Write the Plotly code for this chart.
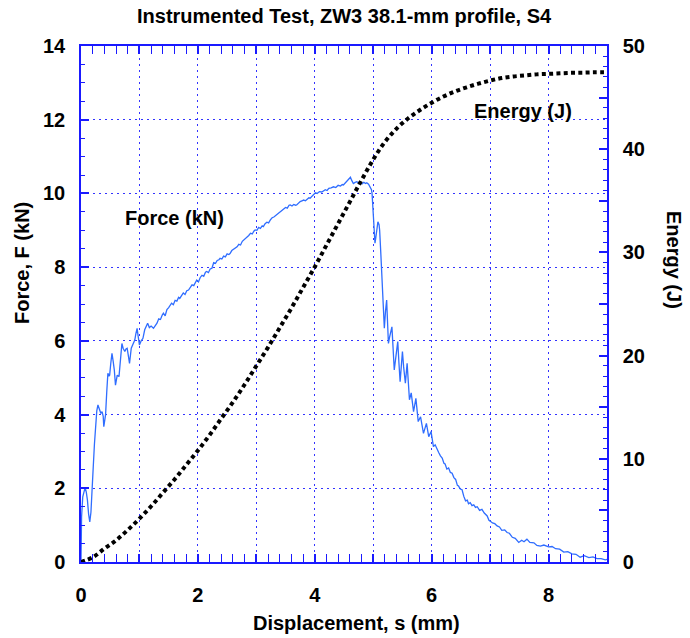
import plotly.graph_objects as go

# Force trace: displacement (mm) and force (kN)
disp_force = [
    0.00, 0.01, 0.03, 0.05, 0.07, 0.09, 0.11, 0.13, 0.15, 0.17, 0.19, 0.21, 0.23, 0.25, 0.27, 0.29,
    0.31, 0.34, 0.36, 0.38, 0.39, 0.41, 0.42, 0.44, 0.46, 0.48, 0.49, 0.51, 0.53, 0.55, 0.57, 0.59,
    0.61, 0.62, 0.65, 0.67, 0.70, 0.72, 0.75, 0.77, 0.79, 0.81, 0.83, 0.86, 0.89, 0.92, 0.94, 0.96,
    0.98, 1.00, 1.03, 1.06, 1.09, 1.12, 1.14, 1.17, 1.20, 1.24, 1.27, 1.30, 1.33, 1.36, 1.39, 1.41,
    1.44, 1.47, 1.50, 1.53, 1.55, 1.58, 1.61, 1.64, 1.67, 1.69, 1.72, 1.75, 1.78, 1.81, 1.84, 1.87,
    1.90, 1.93, 1.96, 1.98, 2.01, 2.04, 2.07, 2.10, 2.13, 2.15, 2.18, 2.21, 2.24, 2.27, 2.30, 2.33,
    2.36, 2.38, 2.41, 2.44, 2.47, 2.50, 2.53, 2.55, 2.58, 2.61, 2.64, 2.67, 2.70, 2.73, 2.76, 2.79,
    2.81, 2.84, 2.87, 2.90, 2.93, 2.96, 2.98, 3.01, 3.04, 3.07, 3.10, 3.12, 3.15, 3.18, 3.21, 3.24,
    3.27, 3.30, 3.33, 3.36, 3.39, 3.41, 3.44, 3.47, 3.50, 3.53, 3.56, 3.58, 3.61, 3.64, 3.67, 3.69,
    3.72, 3.75, 3.78, 3.81, 3.84, 3.87, 3.90, 3.92, 3.95, 3.98, 4.01, 4.04, 4.08, 4.12, 4.15, 4.18,
    4.21, 4.24, 4.28, 4.32, 4.36, 4.40, 4.44, 4.47, 4.49, 4.52, 4.55, 4.58, 4.61, 4.63, 4.66, 4.69,
    4.72, 4.75, 4.78, 4.81, 4.84, 4.87, 4.89, 4.92, 4.95, 4.97, 4.98, 4.99, 5.00, 5.01, 5.02, 5.03,
    5.04, 5.05, 5.07, 5.08, 5.10, 5.11, 5.13, 5.15, 5.16, 5.17, 5.18, 5.19, 5.21, 5.23, 5.24, 5.26,
    5.28, 5.29, 5.32, 5.34, 5.36, 5.39, 5.42, 5.44, 5.46, 5.48, 5.50, 5.52, 5.55, 5.58, 5.60, 5.62,
    5.65, 5.67, 5.69, 5.73, 5.75, 5.77, 5.81, 5.84, 5.86, 5.91, 5.93, 5.95, 5.99, 6.01, 6.03, 6.06,
    6.09, 6.12, 6.15, 6.18, 6.21, 6.23, 6.26, 6.29, 6.32, 6.35, 6.38, 6.41, 6.44, 6.46, 6.49, 6.52,
    6.55, 6.58, 6.61, 6.63, 6.66, 6.69, 6.72, 6.75, 6.78, 6.82, 6.86, 6.90, 6.95, 6.98, 7.00, 7.04,
    7.08, 7.12, 7.16, 7.20, 7.25, 7.29, 7.33, 7.38, 7.43, 7.49, 7.54, 7.58, 7.63, 7.68, 7.75, 7.80,
    7.86, 7.92, 8.00, 8.06, 8.12, 8.19, 8.26, 8.33, 8.40, 8.47, 8.54, 8.61, 8.69, 8.76, 8.83, 8.90,
    8.97, 9.00,
]
force_kn = [
    0.05, 1.23, 1.77, 1.95, 2.02, 1.90, 1.68, 1.30, 1.09, 1.35, 1.85, 2.59, 3.20, 3.76, 4.10, 4.26,
    4.15, 4.03, 4.08, 3.95, 3.67, 3.85, 3.99, 4.60, 5.12, 5.05, 5.07, 5.40, 5.66, 5.45, 5.21, 4.80,
    4.95, 5.07, 5.03, 5.45, 5.93, 5.80, 5.71, 5.78, 5.80, 5.60, 5.39, 5.80, 5.92, 6.02, 6.20, 6.34,
    6.10, 5.89, 6.00, 6.07, 6.30, 6.43, 6.48, 6.36, 6.40, 6.34, 6.42, 6.48, 6.60, 6.58, 6.70, 6.75,
    6.68, 6.85, 6.90, 6.97, 7.02, 6.98, 7.10, 7.08, 7.18, 7.15, 7.22, 7.30, 7.26, 7.36, 7.38, 7.47,
    7.52, 7.50, 7.62, 7.65, 7.60, 7.72, 7.78, 7.75, 7.86, 7.88, 7.85, 7.95, 7.97, 8.12, 8.10, 8.18,
    8.20, 8.24, 8.22, 8.30, 8.28, 8.36, 8.34, 8.37, 8.45, 8.48, 8.52, 8.55, 8.62, 8.60, 8.70, 8.74,
    8.78, 8.80, 8.86, 8.92, 8.90, 8.98, 9.01, 9.00, 9.08, 9.05, 9.12, 9.10, 9.18, 9.22, 9.20, 9.28,
    9.34, 9.36, 9.40, 9.44, 9.46, 9.50, 9.55, 9.58, 9.62, 9.60, 9.68, 9.69, 9.66, 9.70, 9.68, 9.69,
    9.74, 9.78, 9.80, 9.82, 9.80, 9.84, 9.88, 9.87, 9.92, 9.96, 10.02, 10.00, 10.05, 10.04, 10.07, 10.10,
    10.08, 10.14, 10.15, 10.18, 10.16, 10.22, 10.20, 10.24, 10.23, 10.28, 10.32, 10.38, 10.44, 10.36, 10.27, 10.30,
    10.32, 10.28, 10.30, 10.26, 10.30, 10.27, 10.29, 10.25, 10.18, 10.10, 10.00, 9.70, 9.50, 9.28, 8.90, 8.65,
    8.75, 8.92, 9.23, 9.23, 9.15, 9.00, 8.37, 7.74, 7.40, 7.00, 6.60, 6.34, 6.80, 7.11, 6.70, 5.93,
    6.10, 6.20, 6.38, 5.80, 5.21, 5.60, 5.98, 5.40, 4.89, 5.30, 5.71, 5.30, 4.85, 5.39, 4.90, 4.40,
    4.59, 4.30, 4.08, 4.44, 4.10, 3.81, 3.94, 3.65, 3.49, 3.76, 3.55, 3.40, 3.54, 3.30, 3.13, 3.18,
    3.06, 2.97, 2.88, 2.82, 2.68, 2.66, 2.52, 2.55, 2.43, 2.41, 2.29, 2.24, 2.08, 2.06, 1.98, 1.96,
    1.78, 1.66, 1.68, 1.58, 1.61, 1.53, 1.55, 1.48, 1.50, 1.40, 1.43, 1.33, 1.25, 1.13, 1.11, 1.06,
    1.04, 0.98, 0.95, 0.86, 0.87, 0.80, 0.78, 0.67, 0.64, 0.53, 0.59, 0.55, 0.62, 0.53, 0.52, 0.45,
    0.43, 0.46, 0.41, 0.42, 0.36, 0.35, 0.27, 0.28, 0.22, 0.21, 0.13, 0.17, 0.12, 0.14, 0.09, 0.09,
    0.06, 0.07,
]

# Cumulative absorbed energy (J) along the displacement
disp_energy = [
    0.0, 0.2, 0.4, 0.6, 0.8, 1.0, 1.2, 1.4, 1.6, 1.8, 2.0, 2.2, 2.4, 2.6, 2.8, 3.0,
    3.2, 3.4, 3.6, 3.8, 4.0, 4.2, 4.4, 4.6, 4.8, 5.0, 5.2, 5.4, 5.6, 5.8, 6.0, 6.2,
    6.4, 6.6, 6.8, 7.0, 7.2, 7.4, 7.6, 7.8, 8.0, 8.2, 8.4, 8.6, 8.8, 9.0,
]
energy_j = [
    0.0, 0.45, 1.3, 2.1, 3.1, 4.2, 5.4, 6.7, 8.0, 9.4, 10.8, 12.3, 13.9, 15.5, 17.2, 19.0,
    20.8, 22.7, 24.6, 26.6, 28.6, 30.7, 32.8, 34.9, 37.0, 39.0, 40.7, 42.0, 43.0, 43.8, 44.5, 45.1,
    45.6, 46.0, 46.35, 46.65, 46.9, 47.05, 47.15, 47.25, 47.3, 47.35, 47.4, 47.42, 47.45, 47.45,
]

FONT = "Liberation Sans, Arial, sans-serif"
AXIS_BLUE = "#1a1aff"
GRID_BLUE = "#3333ff"

W, H = 690, 638
ML, MR, MT, MB = 81, 83, 46, 76
PW, PH = W - ML - MR, H - MT - MB


def px_x(px):
    return (px - ML) / PW


def px_y(py):
    return (H - MB - py) / PH


fig = go.Figure()

fig.add_trace(go.Scatter(
    x=disp_force, y=force_kn, mode="lines",
    line=dict(color="#2f6dff", width=1.3),
    showlegend=False, hoverinfo="skip",
))

fig.add_trace(go.Scatter(
    x=disp_energy, y=energy_j, mode="lines", yaxis="y2",
    line=dict(color="black", width=4, dash="4px,3.3px", shape="spline"),
    showlegend=False, hoverinfo="skip",
))

tick_font = dict(family=FONT, size=20, color="black", weight="bold")


def minor_ticks(step):
    return dict(tickmode="linear", tick0=0, dtick=step, ticks="inside", ticklen=4,
                tickwidth=1.2, tickcolor=AXIS_BLUE, showgrid=False)


fig.update_layout(
    width=W, height=H,
    margin=dict(l=ML, r=MR, t=MT, b=MB),
    paper_bgcolor="white", plot_bgcolor="white",
    font=dict(family=FONT, color="black"),
    xaxis=dict(
        range=[0, 9], tickmode="linear", tick0=0, dtick=1,
        labelalias={1: "", 3: "", 5: "", 7: "", 9: ""},
        ticks="inside", ticklen=8, tickwidth=1.5, tickcolor=AXIS_BLUE,
        minor=minor_ticks(0.2),
        showline=True, linecolor=AXIS_BLUE, linewidth=1.5, mirror="allticks",
        showgrid=True, gridcolor=GRID_BLUE, gridwidth=1, griddash="2px,4px",
        zeroline=False, tickfont=tick_font, ticklabelstandoff=14,
    ),
    yaxis=dict(
        range=[0, 14], tickmode="linear", tick0=0, dtick=2,
        ticks="inside", ticklen=8, tickwidth=1.5, tickcolor=AXIS_BLUE,
        minor=minor_ticks(0.5),
        showline=True, linecolor=AXIS_BLUE, linewidth=1.5,
        showgrid=True, gridcolor=GRID_BLUE, gridwidth=1, griddash="2px,4px",
        zeroline=False, tickfont=tick_font, ticklabelstandoff=10,
    ),
    yaxis2=dict(
        range=[0, 50], overlaying="y", side="right", tickmode="linear", tick0=0, dtick=5,
        labelalias={5: "", 15: "", 25: "", 35: "", 45: ""},
        ticks="inside", ticklen=8, tickwidth=1.5, tickcolor=AXIS_BLUE,
        minor=minor_ticks(1),
        showline=True, linecolor=AXIS_BLUE, linewidth=1.5,
        showgrid=False, zeroline=False, tickfont=tick_font, ticklabelstandoff=10,
    ),
)

label_font = dict(family=FONT, size=20, color="black", weight="bold")

annotations = [
    dict(text="Instrumented Test, ZW3 38.1-mm profile, S4", x=px_x(344), y=px_y(16),
         font=label_font),
    dict(text="Displacement, s (mm)", x=px_x(356), y=px_y(623), font=label_font),
    dict(text="Force, F (kN)", x=px_x(22), y=px_y(263), textangle=-90, font=label_font),
    dict(text="Energy (J)", x=px_x(674), y=px_y(260), textangle=90, font=label_font),
    dict(text="Force (kN)", x=px_x(174), y=px_y(218), font=label_font),
    dict(text="Energy (J)", x=px_x(523), y=px_y(111), font=label_font),
]
for a in annotations:
    fig.add_annotation(xref="paper", yref="paper", showarrow=False,
                       xanchor="center", yanchor="middle", **a)

fig.write_html("out.html")
